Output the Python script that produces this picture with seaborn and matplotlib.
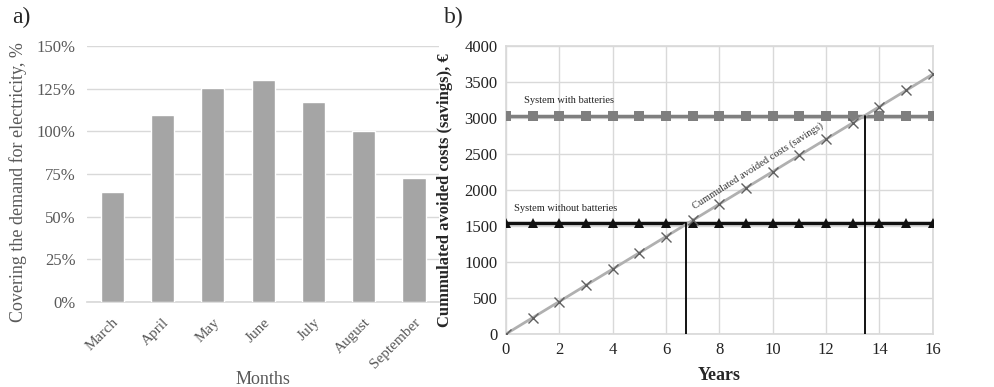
# Energy coverage and cumulated savings - two panel figure
import pandas as pd
import numpy as np
import matplotlib.pyplot as plt
import seaborn as sns

# --------------------------------------------
# Data
# --------------------------------------------
months = ['March', 'April', 'May', 'June', 'July', 'August', 'September']
coverage = [64.5, 109.5, 125.5, 130, 117.5, 100, 72.5]

years = list(range(0, 17))
savings = [0, 226, 451, 677, 902, 1128, 1354, 1579, 1805, 2030,
           2256, 2482, 2707, 2933, 3158, 3384, 3610]
with_batteries = [3030] * 17
without_batteries = [1545] * 17
payback_without = 6.75
payback_with = 13.45

# --------------------------------------------
# Style
# --------------------------------------------
sns.set_theme(style='white')
plt.rcParams['font.family'] = ['Liberation Serif', 'DejaVu Serif']

fig = plt.figure(figsize=(9.95, 3.87), dpi=100)
ax1 = fig.add_axes([0.0874, 0.2196, 0.354, 0.661])
ax2 = fig.add_axes([0.5085, 0.137, 0.429, 0.744])

grey_txt = '#595959'

# --------------------------------------------
# a) monthly coverage
# --------------------------------------------
df_a = pd.DataFrame({'Month': months, 'Coverage': coverage})
sns.barplot(data=df_a, x='Month', y='Coverage', color='#a5a5a5',
            saturation=1, width=0.46, ax=ax1, zorder=3)
ax1.set_ylim(0, 150)
ax1.set_xlim(-0.5, 6.5)
ax1.set_yticks([0, 25, 50, 75, 100, 125, 150])
ax1.set_yticklabels([f'{v}%' for v in [0, 25, 50, 75, 100, 125, 150]],
                    fontsize=12, color=grey_txt)
ax1.set_xticks(range(len(months)))
ax1.set_xticklabels(months, rotation=45, ha='right', rotation_mode='anchor',
                    fontsize=11, color=grey_txt)
ax1.yaxis.grid(True, color='#d9d9d9', lw=1, zorder=0)
for s in ['top', 'right', 'left']:
    ax1.spines[s].set_visible(False)
ax1.spines['bottom'].set_color('#d9d9d9')
ax1.tick_params(axis='y', length=0, pad=8)
ax1.tick_params(axis='x', length=0, pad=10)
ax1.set_xlabel('Months', fontsize=13, color=grey_txt, labelpad=0)
ax1.set_ylabel('Covering the demand for electricity, %', fontsize=13,
               color=grey_txt)
ax1.yaxis.set_label_coords(-0.17, 0.47)

# --------------------------------------------
# b) cumulated avoided costs
# --------------------------------------------
df_b = pd.DataFrame({'Year': years, 'Savings': savings,
                     'With': with_batteries, 'Without': without_batteries})
sns.lineplot(data=df_b, x='Year', y='With', color='#7f7f7f', lw=2.5,
             marker='s', markersize=7, markeredgewidth=0, ax=ax2, zorder=4)
sns.lineplot(data=df_b, x='Year', y='Without', color='#111111', lw=2.5,
             marker='^', markersize=7, markeredgewidth=0, ax=ax2, zorder=4)
sns.lineplot(data=df_b, x='Year', y='Savings', color='#b0b0b0', lw=2,
             marker='x', markersize=7, markeredgecolor='#606060',
             markeredgewidth=1, ax=ax2, zorder=5)

ax2.plot([payback_without, payback_without], [0, without_batteries[0]],
         color='black', lw=1.3, zorder=6)
ax2.plot([payback_with, payback_with], [0, with_batteries[0]],
         color='black', lw=1.3, zorder=6)

ax2.set_xlim(0, 16)
ax2.set_ylim(0, 4000)
ax2.set_xticks(range(0, 17, 2))
ax2.set_yticks(range(0, 4001, 500))
ax2.grid(True, color='#d9d9d9', lw=1, zorder=0)
for s in ax2.spines.values():
    s.set_color('#d9d9d9')
ax2.tick_params(axis='both', length=0, labelsize=12, pad=6, labelcolor='#222222')
ax2.set_xlabel('Years', fontsize=13, fontweight='bold', labelpad=6)
ax2.set_ylabel('Cummulated avoided costs (savings), €', fontsize=12,
               fontweight='bold', labelpad=8)

ax2.text(2.35, 3250, 'System with batteries', fontsize=7.5, ha='center',
         va='center', color='#222222')
ax2.text(2.25, 1740, 'System without batteries', fontsize=7.5, ha='center',
         va='center', color='#222222')
ax2.text(9.45, 2330, 'Cummulated avoided costs (savings)', fontsize=7.5,
         ha='center', va='center', rotation=32.5, color='#333333',
         rotation_mode='anchor')

fig.text(0.012, 0.955, 'a)', fontsize=17, va='center')
fig.text(0.446, 0.955, 'b)', fontsize=17, va='center')

fig.savefig('out.png', dpi=100)
